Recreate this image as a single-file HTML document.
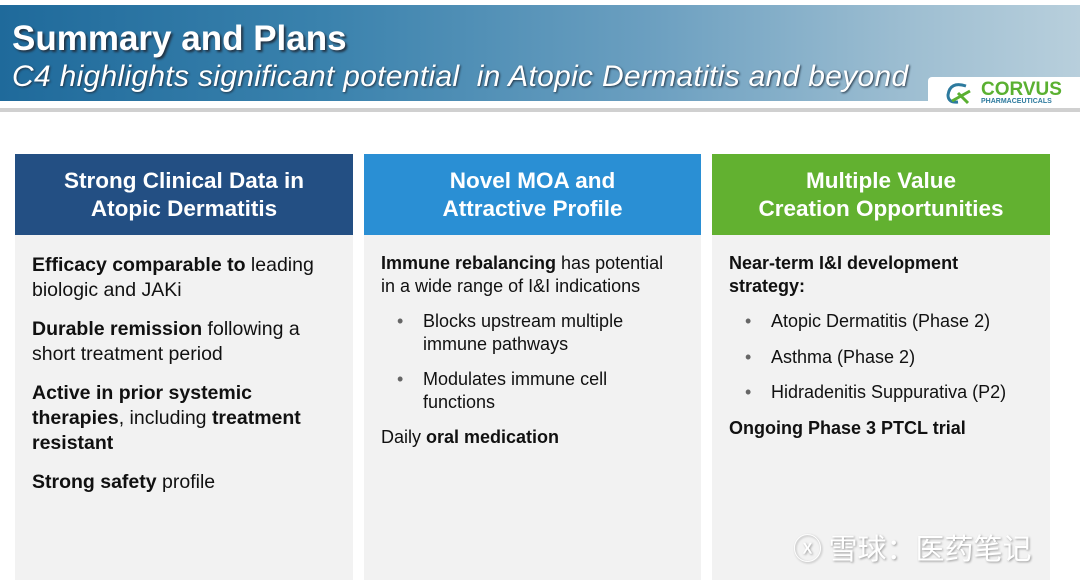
<!DOCTYPE html>
<html><head><meta charset="utf-8"><style>
*{margin:0;padding:0;box-sizing:border-box}
body{width:1080px;height:582px;background:#fff;position:relative;overflow:hidden;font-family:"Liberation Sans",Arial,sans-serif}
.band{position:absolute;left:0;top:5px;width:1080px;height:96px;background:linear-gradient(90deg,#1f6a9b 0%,#3a82ad 30%,#6b9fc0 60%,#9fbfd2 85%,#b8cfdc 100%)}
.line{position:absolute;left:0;top:108px;width:1080px;height:4px;background:#d0d0d0}
.t1{position:absolute;left:12px;top:19px;color:#fff;font-weight:bold;font-size:35px;text-shadow:2px 2px 2px #234}
.t2{position:absolute;left:12px;top:60px;color:#fff;font-style:italic;font-size:30px;text-shadow:1px 1px 2px #234;letter-spacing:0.3px}
.logo{position:absolute;left:928px;top:77px;width:152px;height:31px;background:#fff;border-radius:4px 0 0 0}
.logo b{position:absolute;left:53px;top:2px;color:#5ab031;font-size:19px}
.logo i{position:absolute;left:53px;top:21px;color:#2d7a9e;font-size:7px;font-style:normal;font-weight:bold}
.col{position:absolute;top:154px;height:426px;background:#f2f2f2}
.hd{height:81px;color:#fff;font-weight:bold;font-size:22.5px;text-align:center;display:flex;align-items:center;justify-content:center;line-height:28px}
.bd{padding:10px 17px;color:#111;font-size:19.5px;line-height:25px}
.c1 .bd p{margin-bottom:14px;width:305px}
.c2 .bd,.c3 .bd{font-size:18px;line-height:22.5px}
.c2 .bd p,.c3 .bd p{margin-bottom:13px}
.c2 .bd p{width:300px}
.c3 .bd p{width:260px}
.c3 .bd p.li{width:300px}
.li{padding-left:42px;position:relative}
.li:before{content:"•";position:absolute;left:16px;color:#666}
.wm{position:absolute;left:793px;top:526px;font-family:"Noto Sans CJK SC",sans-serif;font-size:29px;color:#fff;text-shadow:1px 1px 2px #999}
</style></head><body>
<div class="band"></div><div class="line"></div>
<div class="t1">Summary and Plans</div>
<div class="t2">C4 highlights significant potential &nbsp;in Atopic Dermatitis and beyond</div>
<div class="logo"><svg style="position:absolute;left:16px;top:6px" width="30" height="22"><path d="M22 3 Q6 -2 4 12 Q4 20 14 19" stroke="#2d7a9e" stroke-width="3" fill="none"/><path d="M8 18 L26 8 M14 10 L24 20" stroke="#5ab031" stroke-width="3"/></svg><b>CORVUS</b><i>PHARMACEUTICALS</i></div>
<div class="col c1" style="left:15px;width:338px"><div class="hd" style="background:#234f83">Strong Clinical Data in<br>Atopic Dermatitis</div>
<div class="bd" style="padding-top:18px"><p><b>Efficacy comparable to</b> leading biologic and JAKi</p><p><b>Durable remission</b> following a short treatment period</p><p><b>Active in prior systemic therapies</b>, including <b>treatment resistant</b></p><p><b>Strong safety</b> profile</p></div></div>
<div class="col c2" style="left:364px;width:337px"><div class="hd" style="background:#2a8fd4">Novel MOA and<br>Attractive Profile</div>
<div class="bd" style="padding-top:17px"><p><b>Immune rebalancing</b> has potential in a wide range of I&amp;I indications</p><p class="li" style="width:270px">Blocks upstream multiple immune pathways</p><p class="li" style="width:270px">Modulates immune cell functions</p><p>Daily <b>oral medication</b></p></div></div>
<div class="col c3" style="left:712px;width:338px"><div class="hd" style="background:#62b130">Multiple Value<br>Creation Opportunities</div>
<div class="bd" style="padding-top:17px"><p><b>Near-term I&amp;I development strategy:</b></p><p class="li">Atopic Dermatitis (Phase 2)</p><p class="li">Asthma (Phase 2)</p><p class="li">Hidradenitis Suppurativa (P2)</p><p style="width:300px"><b>Ongoing Phase 3 PTCL trial</b></p></div></div>
<div class="wm">ⓧ 雪球：医药笔记</div>
</body></html>
